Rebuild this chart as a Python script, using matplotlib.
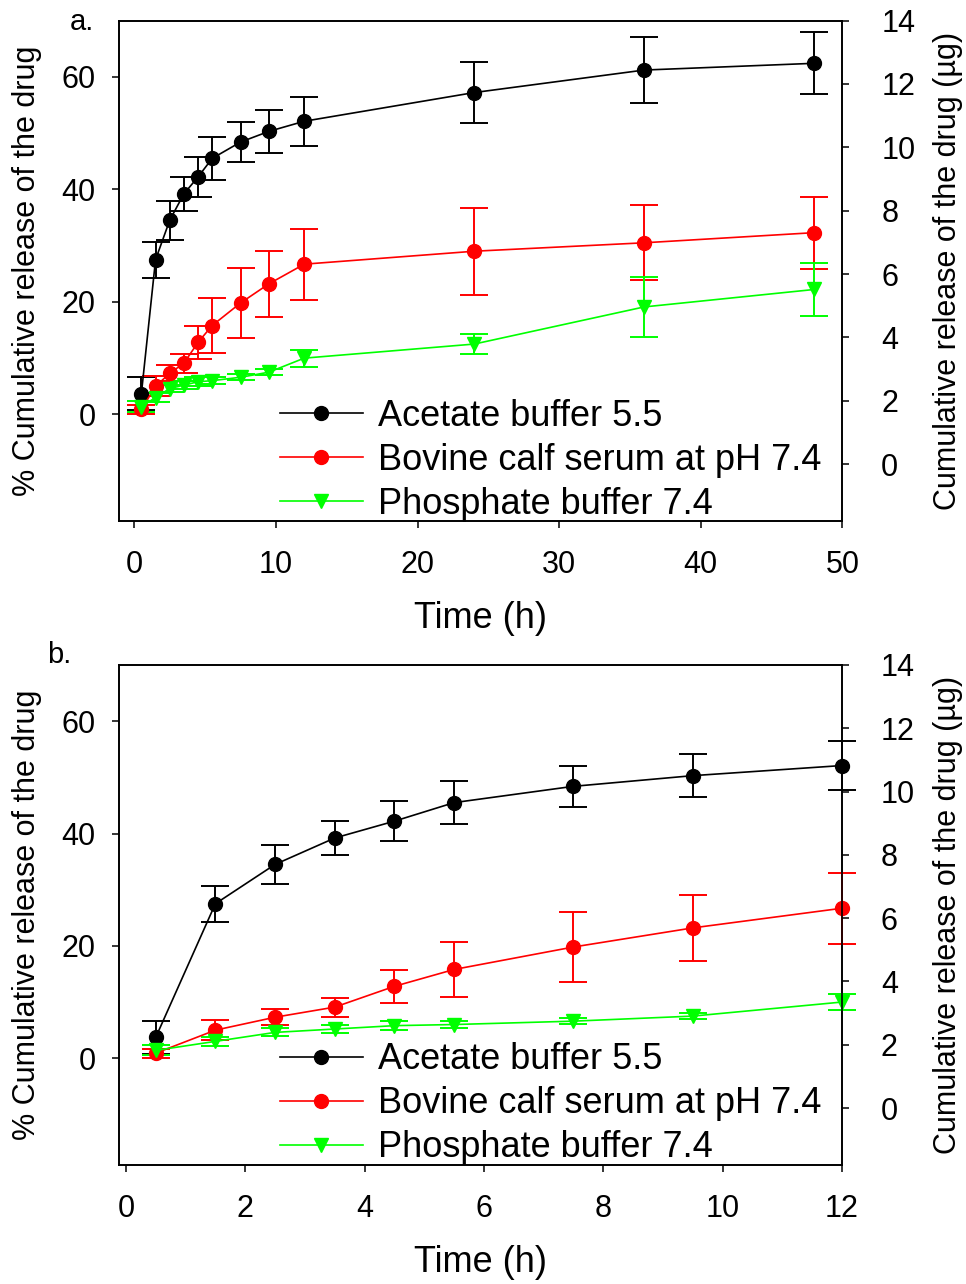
import matplotlib
matplotlib.use("Agg")
import matplotlib.pyplot as plt

plt.rcParams['font.family'] = ['Liberation Sans', 'DejaVu Sans']

time_h = [0.5, 1.5, 2.5, 3.5, 4.5, 5.5, 7.5, 9.5, 12, 24, 36, 48]
acetate = [3.7, 27.5, 34.5, 39.2, 42.2, 45.5, 48.4, 50.3, 52.1, 57.2, 61.2, 62.4]
acetate_err = [2.9, 3.2, 3.5, 3.0, 3.6, 3.8, 3.6, 3.8, 4.4, 5.4, 5.9, 5.5]
bovine = [0.9, 5.0, 7.3, 9.1, 12.8, 15.8, 19.8, 23.2, 26.7, 29.0, 30.5, 32.3]
bovine_err = [0.8, 1.8, 1.4, 1.7, 2.9, 4.9, 6.3, 5.9, 6.3, 7.7, 6.7, 6.4]
phosphate = [1.4, 3.0, 4.6, 5.2, 5.8, 6.0, 6.6, 7.5, 10.0, 12.5, 19.1, 22.2]
phosphate_err = [0.9, 0.8, 0.7, 0.7, 0.8, 0.6, 0.5, 0.5, 1.5, 1.8, 5.4, 4.7]

labels = ["Acetate buffer 5.5", "Bovine calf serum at pH 7.4", "Phosphate buffer 7.4"]
colors = ["black", "#ff0000", "#00ff00"]
markers = ["o", "o", "v"]

fig = plt.figure(figsize=(9.66, 12.84), dpi=100)

panels = [
    dict(rect=[0.1235, 0.594, 0.7485, 0.390], xlim=(-1.06, 50), xticks=[0, 10, 20, 30, 40, 50],
         tmax=48, tag="a.", tagpos=(0.072, 0.983)),
    dict(rect=[0.1235, 0.0927, 0.7481, 0.3894], xlim=(-0.11, 12), xticks=[0, 2, 4, 6, 8, 10, 12],
         tmax=12, tag="b.", tagpos=(0.049, 0.490)),
]

series = [(acetate, acetate_err), (bovine, bovine_err), (phosphate, phosphate_err)]

for p in panels:
    ax = fig.add_axes(p["rect"])
    handles = []
    for (vals, errs), lab, col, mk in zip(series, labels, colors, markers):
        xs = [t for t in time_h if t <= p["tmax"]]
        ys = vals[:len(xs)]
        es = errs[:len(xs)]
        eb = ax.errorbar(xs, ys, yerr=es, color=col, marker=mk, markersize=10,
                         linewidth=1.2, elinewidth=1.4, capsize=10, capthick=1.4,
                         label=lab, clip_on=False, zorder=3)
        for c in eb[1]:
            c.set_clip_on(False)
        for c in eb[2]:
            c.set_clip_on(False)
        handles.append(eb[0])
    ax.set_xlim(*p["xlim"])
    ax.set_ylim(-19, 70)
    ax.set_xticks(p["xticks"])
    ax.set_yticks([0, 20, 40, 60])
    ax.tick_params(axis='x', direction='out', length=5, width=1.1, labelsize=22, pad=16)
    ax.tick_params(axis='y', direction='out', length=5, width=1.1, labelsize=22, pad=12, right=False)
    for s in ax.spines.values():
        s.set_linewidth(1.2)
    ax.set_xlabel("Time (h)", fontsize=26, labelpad=15)
    ax.set_ylabel("% Cumulative release of the drug", fontsize=22, labelpad=14)

    ax2 = ax.twinx()
    ax2.set_ylim(-1.8, 14)
    ax2.set_yticks([0, 2, 4, 6, 8, 10, 12, 14])
    ax2.tick_params(axis='y', direction='out', length=5, width=1.1, labelsize=22, pad=23)
    for s in ax2.spines.values():
        s.set_linewidth(1.2)
    ax2.set_ylabel("Cumulative release of the drug (\u00b5g)", fontsize=22, labelpad=13)

    ax.legend(handles=handles, labels=labels, loc='lower left',
              bbox_to_anchor=(0.187, -0.051), frameon=False, fontsize=26,
              handlelength=2.3, handletextpad=0.42, labelspacing=0.25,
              borderpad=0.2)
    fig.text(p["tagpos"][0], p["tagpos"][1], p["tag"], fontsize=21, ha='left', va='center')

fig.savefig("out.png", dpi=100)
